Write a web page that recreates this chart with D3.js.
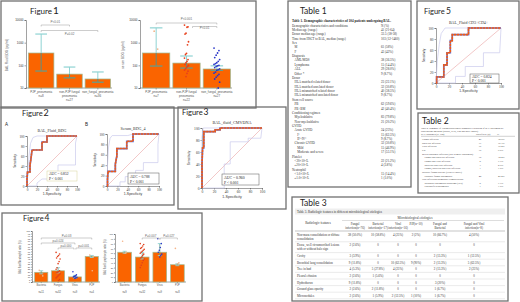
<!DOCTYPE html>
<html><head><meta charset="utf-8">
<script src="https://cdn.jsdelivr.net/npm/d3@7"></script>
<style>body{margin:0;background:#fff}svg{display:block}</style>
</head><body>
<svg id="c" width="520" height="302"></svg>
<script>
// ---------------- DATA ----------------
const fig1Cats = ["PJP","nonPJPfungal","nonFungal"];
const fig1LeftLabels = [["PJP_pneumonia","n=8"],["non-PJP fungal","pneumonia","n=27"],["non_fungal_pneumonia","n=36"]];
const fig1LeftMean = [350, 41, 25];
const fig1LeftHi = [2400, 84, 51];
const fig1LeftLo = [56, 28, 18];
const fig1RightLabels = [["PJP_pneumonia","n=7"],["non-PJP fungal","pneumonia","n=22"],["non_fungal_pneumonia","n=27"]];
const fig1RightMean = [350, 126, 69];
const fig1RightHi = [4500, 258, 95];
const fig1RightLo = [93, 76, 60];
const fig1RightPJPDots = [3200, 520];
const fig1RightFungalDots = [6000, 5000, 4800, 2600, 2400, 1100, 800, 340, 300, 210, 180, 150, 130, 110, 100, 90, 80, 70, 62, 55, 44, 32];
const fig1RightNonFungalDots = [580, 450, 350, 280, 220, 180, 150, 130, 120, 110, 100, 95, 90, 80, 70, 65, 60, 50, 45, 40, 35, 30, 25, 18, 10];
const logTicks = [10, 100, 1000, 10000];

const rocTicks = [0, 20, 40, 60, 80, 100];
const rocA = [[0,0],[0,14],[1,28],[6,28],[6,42],[8,55],[10,72],[30,72],[30,88],[40,88],[40,100],[100,100]];
const rocAUpper = [[0,0],[2,30],[4,60],[7,85],[12,97],[20,100],[100,100]];
const rocALower = [[0,0],[20,0],[20,6],[30,14],[45,14],[45,26],[62,26],[62,42],[97,42],[97,86],[100,100]];
const rocB = [[0,0],[1,0],[1,12],[2,28],[16,28],[16,42],[19,58],[19,72],[38,72],[38,86],[50,86],[50,100],[100,100]];
const rocBUpper = [[0,0],[1,40],[3,75],[6,92],[10,97],[40,97],[50,100],[100,100]];
const rocBLower = [[0,0],[25,0],[25,8],[35,8],[35,18],[55,18],[55,30],[70,30],[70,45],[98,45],[98,80],[100,100]];
const rocC = [[0,0],[0,40],[1,67],[3,67],[3,94],[22,94],[22,97],[30,97],[30,100],[100,100]];
const rocCUpper = [[0,0],[0,85],[2,100],[100,100]];
const rocCLower = [[0,0],[37,0],[37,40],[47,40],[47,77],[77,77],[77,83],[98,83],[100,100]];
const rocD = [[0,0],[1,0],[1,11],[12,11],[12,33],[17,33],[17,55],[22,55],[22,77],[25,77],[25,88],[50,88],[50,100],[100,100]];
const rocDUpper = [[0,0],[2,40],[5,70],[8,90],[14,100],[100,100]];
const rocDLower = [[0,0],[30,0],[30,12],[45,12],[45,30],[73,30],[73,55],[98,55],[100,100]];

const fig4Cats = ["Bacteria","Fungus","Virus","PJP"];
const fig4LeftN = ["n=11","n=32","n=9","n=4"];
const fig4LeftMean = [19, 22, 10, 50];
const fig4LeftErr = [[16,22],[18,28],[8,13],[48,52]];
const fig4LeftDots = [[23,12],[58,55,52,50,47,45,40,36,28,25,22,20,19,18,16,14,12,10,8,5,3],[20,14,12,11,10,9,8,7],[53,50,22]];
const fig4LeftTicks = d3.range(0, 101, 5);
const fig4RightN = ["n=9","n=32","n=9","n=8"];
const fig4RightMean = [62, 52, 62, 36];
const fig4RightErr = [[60,64],[48,62],[55,80],[34,38]];
const fig4RightDots = [[85,62,60],[80,78,75,72,70,68,66,64,62,60,58,55,52,50,48,45,40,35,30],[90,80,72,66,62,58,55,52],[70,40,38]];
const fig4RightTicks = d3.range(0, 101, 10);

const table1Rows = [
 ["Demographic characteristics and conditions","N (%)"],
 ["Median age (range)","41 (21-64)"],
 ["Donor median age (range)","33.5 (18-58)"],
 ["Time from HSCT to BAL, median (range)","103 (12-1460)"],
 ["Sex",""],["  M","61 (58%)"],["  F","43 (42%)"],
 ["Diagnosis",""],["  AML/MDS","38 (36.5%)"],["  Lymphoma","15 (14.4%)"],["  ALL","29 (28.0%)"],["  Other *","9 (8.7%)"],
 ["Donor",""],["  HLA matched related donor","23 (22.1%)"],["  HLA matched unrelated donor","32 (30.8%)"],
 ["  HLA mismatched related donor","40 (38.5%)"],["  HLA mismatched unrelated donor","9 (8.7%)"],
 ["Stem cell source",""],["  PB","62 (59.6%)"],["  PB+BM","42 (40.4%)"],
 ["Conditioning regimen",""],["  Myeloablative","83 (79.8%)"],["  Non-myeloablative","21 (20.2%)"],
 ["GVHD",""],["  Acute GVHD","24 (23%)"],["    I°","15 (62.5%)"],["    II°-IV°","9 (8.7%)"],
 ["  Chronic GVHD","32 (30.8%)"],["    Mild","15 (46.9%)"],["    Moderate and severe","17 (53.1%)"],
 ["Platelet",""],["  <20×10⁹/L","22 (21.2%)"],["  ≥20×10⁹/L","4 (3.8%)"],
 ["Neutrophil",""],["  <1.0×10⁹/L","15 (14.4%)"],["  ≥1.0×10⁹/L","1 (1.0%)"]
];
const table2Rows = [
 ["Fungal infection","40","38.5%"],["Bacterial infection","17","16.3%"],["Viral infection","16","15.4%"],["PJP","10","9.6%"],
 ["Mixed pathogen infection (two or more pathogens)","",""],
 ["  Fungal and bacterial infection","15","14.4%"],["  Fungal and viral infection","8","7.7%"],
 ["  Bacterial and viral infection","3","2.9%"],["  Fungal, bacterial and viral infection","1","1.0%"],
 ["Invasive fungal disease (EORTC/MSG)","",""],["  Probable fungal pneumonia","42","40.4%"],
 ["Non-infectious pulmonary complications","",""],["  Idiopathic pneumonia syndrome (IPS)","8","7.7%"],["  Unclassified pneumonia","1","1.0%"]
];
const table3Cols = [["Fungal","infection(n=76)"],["Bacterial","infection(n=17)"],["Viral","infection(n=16)"],["PJP(n=10)"],["Fungal and","Bacterial"],["Fungal and Viral","infection(n=8)"]];
const table3Rows = [
 [["Non-mass consolidation or diffuse","consolidation"],["38 (50.0%)","10 (58.8%)","4 (25%)","2 (2%)","10 (66.7%)","4 (50%)"]],
 [["Dense, well circumscribed lesions","with or without halo sign"],["2 (2.6%)","0","0","0","0","0"]],
 [["Cavity"],["3 (3.9%)","0","0","0","2 (13.3%)","1 (12.5%)"]],
 [["Bronchial lung consolidation"],["9 (11.8%)","0","10 (62.5%)","9 (90%)","2 (13.3%)","5 (62.5%)"]],
 [["Tree in bud"],["4 (5.3%)","5 (27.8%)","4 (25%)","0","2 (13.3%)","2 (25%)"]],
 [["Pleural effusion"],["2 (2.6%)","1 (5.6%)","0","0","0","0"]],
 [["Hydrothorax"],["9 (11.8%)","0","0","0","3 (20%)","0"]],
 [["Ground glass opacity"],["2 (2.6%)","2 (11.8%)","0","0","1 (6.7%)","0"]],
 [["Micronodules"],["2 (2.6%)","1 (5.9%)","2 (12.5%)","1 (10%)","1 (6.7%)","0"]]
];

// ---------------- HELPERS ----------------
const svg = d3.select("#c");
const SANS = "Liberation Sans", SERIF = "Liberation Serif", TITLE = "Lato";
const ORANGE = "#fa6400", BARSTROKE = "#9dbb95";

function box(x,y,w,h){ svg.append("rect").attr("x",x).attr("y",y).attr("width",w).attr("height",h)
  .attr("fill","none").attr("stroke","#707070").attr("stroke-width",1.3); }
function txt(g,x,y,s,o={}){ return g.append("text").attr("x",x).attr("y",y).text(s)
  .attr("font-size",o.size||4).attr("font-family",o.family||SANS).attr("fill",o.fill||"#333")
  .attr("text-anchor",o.anchor||"start").attr("font-weight",o.weight||"normal"); }
function vtxt(g,x,y,s,o={}){ return txt(g,0,0,s,Object.assign({anchor:"middle"},o)).attr("transform",`translate(${x},${y}) rotate(-90)`); }
function styleAxis(a,fs,fam){ a.select(".domain").attr("stroke","#444").attr("stroke-width",0.5);
  a.selectAll(".tick line").attr("stroke","#444").attr("stroke-width",0.5);
  a.selectAll(".tick text").attr("font-size",fs).attr("font-family",fam||SANS).attr("fill","#333"); }
function bracket(g,x1,x2,y,label,ly){
  g.append("path").attr("d",`M${x1},${y+1.5}V${y}H${x2}V${y+1.5}`).attr("fill","none").attr("stroke","#9a9a9a").attr("stroke-width",0.5);
  txt(g,(x1+x2)/2,ly,label,{size:3,anchor:"middle",fill:"#666"});
}
function jit(i,k){ return ((i*7)%9-4)*k; }

// ---------------- FIGURE 1 ----------------
function logBars(cfg){
  const g = svg.append("g");
  const x = d3.scaleBand().domain(fig1Cats).range([cfg.xl,cfg.xr]).paddingInner(0.1).paddingOuter(0.05);
  const y = d3.scaleLog().domain([10,10000]).range([88,20]);
  const ay = g.append("g").attr("transform",`translate(${cfg.xl-1},0)`)
    .call(d3.axisLeft(y).tickValues(logTicks).tickFormat(d3.format("d")).tickSize(1.5).tickPadding(1));
  styleAxis(ay,3);
  const ax = g.append("g").attr("transform","translate(0,88)").call(d3.axisBottom(x).tickSize(1.5).tickFormat(""));
  styleAxis(ax,3);
  ax.select(".domain").attr("d",`M${cfg.xl-1},0H${cfg.xr}`);
  fig1Cats.forEach((c,i)=>{
    const bx = x(c), bw = x.bandwidth(), cx = bx+bw/2;
    g.append("rect").attr("x",bx).attr("y",y(cfg.mean[i])).attr("width",bw).attr("height",y(10)-y(cfg.mean[i]))
      .attr("fill",ORANGE).attr("stroke",BARSTROKE).attr("stroke-width",0.7);
    const yt = y(cfg.hi[i]), yb = y(cfg.lo[i]), ym = y(cfg.mean[i]);
    g.append("line").attr("x1",cx).attr("x2",cx).attr("y1",yt).attr("y2",ym).attr("stroke","#8fd3d3").attr("stroke-width",1);
    g.append("line").attr("x1",cx).attr("x2",cx).attr("y1",ym).attr("y2",yb).attr("stroke","#5f8f80").attr("stroke-width",1);
    g.append("line").attr("x1",cx-bw*0.23).attr("x2",cx+bw*0.23).attr("y1",yt).attr("y2",yt).attr("stroke","#8fd3d3").attr("stroke-width",1.2);
    g.append("line").attr("x1",cx-bw*0.23).attr("x2",cx+bw*0.23).attr("y1",yb).attr("y2",yb).attr("stroke","#5f9f90").attr("stroke-width",1.2);
    cfg.labels[i].forEach((l,k)=>txt(g,cx,92.5+k*4,l,{size:3,anchor:"middle",fill:"#555"}));
    if(cfg.dots && cfg.dots[i]) cfg.dots[i].vals.forEach((v,j)=>{
      g.append("circle").attr("cx",cx+jit(j,cfg.dots[i].spread)).attr("cy",y(v)).attr("r",0.9).attr("fill",cfg.dots[i].color);
    });
  });
  vtxt(g,cfg.ylx,55,cfg.ylab,{size:3.2,fill:"#555"});
  return {x,y,g};
}
box(1,1,255,107);
txt(svg,30,14,"Figure",{size:8,family:TITLE,fill:"#222"});
txt(svg,53,14,"1",{size:10,family:TITLE,fill:"#222"});
const f1L = logBars({xl:27,xr:112,mean:fig1LeftMean,hi:fig1LeftHi,lo:fig1LeftLo,labels:fig1LeftLabels,ylx:8,ylab:"BAL Fluid BDG (pg/ml)"});
{ const cx=i=>f1L.x(fig1Cats[i])+f1L.x.bandwidth()/2;
  bracket(f1L.g,cx(0),cx(1),25,"P<0.01",23.3); bracket(f1L.g,cx(0),cx(2),30.5,"P=0.02",34.5); }
const f1R = logBars({xl:141,xr:232,mean:fig1RightMean,hi:fig1RightHi,lo:fig1RightLo,labels:fig1RightLabels,ylx:124,ylab:"serum BDG (pg/ml)",
  dots:[{vals:fig1RightPJPDots,color:"#f4b48a",spread:0.5},{vals:fig1RightFungalDots,color:"#e8401c",spread:0.5},{vals:fig1RightNonFungalDots,color:"#2a36c8",spread:0.7}]});
{ const cx=i=>f1R.x(fig1Cats[i])+f1R.x.bandwidth()/2;
  bracket(f1R.g,cx(0),cx(2),23,"P<0.001",19.5); bracket(f1R.g,cx(1)+6,cx(2),26.5,"P<0.01",28.5); }

// ---------------- ROC PANELS ----------------
function rocPanel(cfg){
  const g = svg.append("g");
  const x = d3.scaleLinear().domain([0,100]).range([cfg.x0,cfg.x1]);
  const y = d3.scaleLinear().domain([0,100]).range([cfg.y0,cfg.y1]);
  const ay = g.append("g").attr("transform",`translate(${cfg.x0},0)`).call(d3.axisLeft(y).tickValues(rocTicks).tickSize(1.5).tickPadding(1));
  const ax = g.append("g").attr("transform",`translate(0,${cfg.y0})`).call(d3.axisBottom(x).tickValues(rocTicks).tickSize(1.5).tickPadding(1));
  styleAxis(ay,cfg.fs,SERIF); styleAxis(ax,cfg.fs,SERIF);
  const line = d3.line().x(d=>x(d[0])).y(d=>y(d[1]));
  g.append("path").datum([[0,0],[100,100]]).attr("d",line).attr("fill","none").attr("stroke","#eaa2a2").attr("stroke-width",0.6);
  [cfg.upper,cfg.lower].forEach(b=>g.append("path").datum(b).attr("d",line).attr("fill","none").attr("stroke","#cacaec").attr("stroke-width",0.7));
  g.append("path").datum(cfg.curve).attr("d",line).attr("fill","none").attr("stroke","#6070d8").attr("stroke-width",1.7);
  g.append("path").datum(cfg.curve).attr("d",line).attr("fill","none").attr("stroke","#f25a12").attr("stroke-width",1.6).attr("stroke-dasharray","2.4,0.6");
  txt(g,(cfg.x0+cfg.x1)/2,cfg.y1-4.5,cfg.title,{size:cfg.fs+0.6,family:SERIF,anchor:"middle",fill:"#333"});
  txt(g,(cfg.x0+cfg.x1)/2,cfg.y0+cfg.fs+6,"1-Specificity",{size:cfg.fs,anchor:"middle",fill:"#333"});
  vtxt(g,cfg.x0-cfg.fs*3.2,(cfg.y0+cfg.y1)/2,"Sensitivity",{size:cfg.fs*0.9,fill:"#333"});
  const [bx,by,bw,bh] = cfg.aucBox;
  g.append("rect").attr("x",bx).attr("y",by).attr("width",bw).attr("height",bh).attr("fill","#fff").attr("stroke",cfg.boxStroke||"#555").attr("stroke-width",0.5);
  txt(g,bx+2,by+bh*0.43,cfg.auc,{size:cfg.fs+0.2,family:SERIF,fill:"#222"});
  txt(g,bx+2,by+bh*0.88,cfg.p,{size:cfg.fs+0.2,family:SERIF,fill:"#222"});
}
// Figure 2
box(1,107,173,98);
txt(svg,22,116,"Figure",{size:7.5,family:TITLE,fill:"#222"});
txt(svg,43.5,116,"2",{size:9,family:TITLE,fill:"#222"});
txt(svg,5,126,"A",{size:4.5,fill:"#222"});
txt(svg,85,126,"B",{size:4.5,fill:"#222"});
rocPanel({x0:27,x1:77,y0:186,y1:136,fs:3.4,title:"BAL_Fluid_BDG",curve:rocA,upper:rocAUpper,lower:rocALower,aucBox:[47,171,30,10],auc:"AUC = 0.852",p:"P < 0.001",boxStroke:"#d8d49a"});
rocPanel({x0:107,x1:159,y0:186,y1:134,fs:3.4,title:"Serum_BDG_4",curve:rocB,upper:rocBUpper,lower:rocBLower,aucBox:[128,173,31,11],auc:"AUC = 0.788",p:"P < 0.001"});
// Figure 3
box(178,107,108,102);
txt(svg,182,115,"Figure",{size:7.5,family:TITLE,fill:"#222"});
txt(svg,203.5,115,"3",{size:8.5,family:TITLE,fill:"#222"});
rocPanel({x0:202,x1:262,y0:188,y1:128,fs:3.6,title:"BAL_fluid_CMVDNA",curve:rocC,upper:rocCUpper,lower:rocCLower,aucBox:[222,174,37,11],auc:"AUC = 0.960",p:"P < 0.001"});
// Figure 5
box(417,1,102,108);
txt(svg,424,14,"Figure",{size:7.5,family:TITLE,fill:"#222"});
txt(svg,446,14,"5",{size:8.5,family:TITLE,fill:"#222"});
rocPanel({x0:436,x1:501,y0:83,y1:28,fs:3.4,title:"BAL_Fluid CD3+CD4+",curve:rocD,upper:rocDUpper,lower:rocDLower,aucBox:[470,74,29,9],auc:"AUC = 0.824",p:"P < 0.001"});

// ---------------- FIGURE 4 ----------------
function linBars(cfg){
  const g = svg.append("g");
  const x = d3.scaleBand().domain(fig4Cats).range([cfg.xl,cfg.xr]).paddingInner(0.22).paddingOuter(0.1);
  const y = d3.scaleLinear().domain([0,100]).range([282,cfg.yt]);
  const ay = g.append("g").attr("transform",`translate(${cfg.xl-1},0)`).call(d3.axisLeft(y).tickValues(cfg.ticks).tickSize(1).tickPadding(0.8));
  styleAxis(ay,2.2);
  const ax = g.append("g").attr("transform","translate(0,282)").call(d3.axisBottom(x).tickSize(1).tickFormat(""));
  styleAxis(ax,2.2); ax.select(".domain").attr("d",`M${cfg.xl-1},0H${cfg.xr}`);
  fig4Cats.forEach((c,i)=>{
    const bx=x(c), bw=x.bandwidth(), cx=bx+bw/2;
    g.append("rect").attr("x",bx).attr("y",y(cfg.mean[i])).attr("width",bw).attr("height",282-y(cfg.mean[i]))
      .attr("fill",ORANGE).attr("stroke",BARSTROKE).attr("stroke-width",0.7);
    const [lo,hi]=cfg.err[i];
    g.append("line").attr("x1",cx).attr("x2",cx).attr("y1",y(hi)).attr("y2",y(lo)).attr("stroke","#5f9f90").attr("stroke-width",0.8);
    [lo,hi].forEach(v=>g.append("line").attr("x1",cx-2).attr("x2",cx+2).attr("y1",y(v)).attr("y2",y(v)).attr("stroke","#8fd3d3").attr("stroke-width",0.9));
    const col = i===1?"#e0401c":(i===2?"#2a36c8":"#f4b48a");
    cfg.dots[i].forEach((v,j)=>g.append("circle").attr("cx",cx+jit(j,0.5)).attr("cy",y(v)).attr("r",0.8).attr("fill",col));
    txt(g,cx,285.5,c,{size:2.6,anchor:"middle",fill:"#555"});
    txt(g,cx,293,cfg.n[i],{size:2.6,anchor:"middle",fill:"#555"});
  });
  vtxt(g,cfg.ylx,257,cfg.ylab,{size:2.6,fill:"#555"});
  return {x,g,cx:i=>x(fig4Cats[i])+x.bandwidth()/2};
}
box(2,213,200,88);
txt(svg,23,221,"Figure",{size:7.5,family:TITLE,fill:"#222"});
txt(svg,44.5,221,"4",{size:8.5,family:TITLE,fill:"#222"});
const f4L = linBars({xl:33,xr:100,yt:231,ticks:fig4LeftTicks,mean:fig4LeftMean,err:fig4LeftErr,dots:fig4LeftDots,n:fig4LeftN,ylx:21,ylab:"BAL fluid Neutrophil ratio (%)"});
bracket(f4L.g,f4L.cx(0),f4L.cx(3),238,"P=0.03",236.5);
bracket(f4L.g,f4L.cx(0),f4L.cx(2),243,"p=0.024",241.5);
bracket(f4L.g,f4L.cx(1),f4L.cx(2)-1,248,"p=0.000",246.5);
bracket(f4L.g,f4L.cx(2)+1,f4L.cx(3),248,"p=0.001",246.5);
const f4R = linBars({xl:116,xr:186,yt:234,ticks:fig4RightTicks,mean:fig4RightMean,err:fig4RightErr,dots:fig4RightDots,n:fig4RightN,ylx:106,ylab:"BAL fluid Lymphocyte ratio (%)"});
bracket(f4R.g,f4R.cx(1),f4R.cx(2)-0.5,238,"P=0.007",236.5);
bracket(f4R.g,f4R.cx(2)+0.5,f4R.cx(3),238,"P=0.027",236.5);

// ---------------- TABLE 1 ----------------
box(288,1,123,186);
txt(svg,300,14,"Table 1",{size:8.5,family:TITLE,fill:"#222"});
txt(svg,292,21.5,"Table 1. Demographic characteristics of 104 patients undergoing BAL.",{size:3.3,family:SERIF,weight:"bold",fill:"#222"});
table1Rows.forEach((r,i)=>{
  const yy = 26.5 + i*4.37;
  const ind = r[0].match(/^ */)[0].length;
  txt(svg,292+ind*1.3,yy,r[0].trim(),{size:3.2,family:SERIF,fill:"#333"});
  if(r[1]) txt(svg,381,yy,r[1],{size:3.2,family:SERIF,fill:"#333"});
});

// ---------------- TABLE 2 ----------------
box(418,113,101,80);
txt(svg,422,124,"Table 2",{size:8.5,family:TITLE,fill:"#222"});
txt(svg,421,128.5,"Table 2. Summary of 104 microbiological diagnostic evaluation of BAL specimens by",{size:2.4,family:SERIF,fill:"#333"});
txt(svg,421,131.5,"conventional methods (culture, PCR, GM and BDG assays)",{size:2.4,family:SERIF,fill:"#333"});
txt(svg,421,135,"BAL pathogen (n=104)",{size:2.5,family:SERIF,fill:"#333"});
txt(svg,476,135,"Specificity (n)",{size:2.5,family:SERIF,fill:"#333"});
txt(svg,497,135,"%",{size:2.5,family:SERIF,fill:"#333"});
svg.append("line").attr("x1",421).attr("x2",515).attr("y1",136.3).attr("y2",136.3).attr("stroke","#888").attr("stroke-width",0.4);
table2Rows.forEach((r,i)=>{
  const yy = 140 + i*3.65;
  const ind = r[0].match(/^ */)[0].length;
  txt(svg,422+ind*1.2,yy,r[0].trim(),{size:2.5,family:SERIF,fill:"#333"});
  txt(svg,480,yy,r[1],{size:2.5,family:SERIF,fill:"#333",anchor:"middle"});
  txt(svg,498,yy,r[2],{size:2.5,family:SERIF,fill:"#333"});
});

// ---------------- TABLE 3 ----------------
box(292,197,216,104);
txt(svg,300,206,"Table 3",{size:8.5,family:TITLE,fill:"#222"});
svg.append("rect").attr("x",295).attr("y",208.5).attr("width",210).attr("height",6).attr("fill","#efefef");
txt(svg,297,213,"Table 3. Radiologic features in different microbiological etiologies",{size:3.2,family:SERIF,fill:"#333"});
const t3x = [355,378,398,416,440,474];
txt(svg,415,219,"Microbiological etiologies",{size:3.3,family:SERIF,anchor:"middle",fill:"#333"});
svg.append("line").attr("x1",342).attr("x2",504).attr("y1",220.5).attr("y2",220.5).attr("stroke","#aaa").attr("stroke-width",0.4);
txt(svg,318,224,"Radiologic features",{size:3.3,family:SERIF,anchor:"middle",fill:"#333"});
table3Cols.forEach((c,i)=>c.forEach((l,k)=>txt(svg,t3x[i],225+k*4,l,{size:3.1,family:SERIF,anchor:"middle",fill:"#333"})));
svg.append("line").attr("x1",295).attr("x2",505).attr("y1",231).attr("y2",231).attr("stroke","#888").attr("stroke-width",0.5);
let ty = 235.5;
table3Rows.forEach((r,i)=>{
  const lines = r[0];
  lines.forEach((l,k)=>txt(svg,297,ty+k*4,l,{size:3.1,family:SERIF,fill:"#333"}));
  r[1].forEach((v,j)=>txt(svg,t3x[j],ty,v,{size:3.1,family:SERIF,anchor:"middle",fill:"#333"}));
  const h = lines.length>1 ? 10.8 : 6.6;
  svg.append("line").attr("x1",295).attr("x2",505).attr("y1",ty+h-4.5).attr("y2",ty+h-4.5).attr("stroke","#ccc").attr("stroke-width",0.4);
  ty += h;
});
</script>
</body></html>
